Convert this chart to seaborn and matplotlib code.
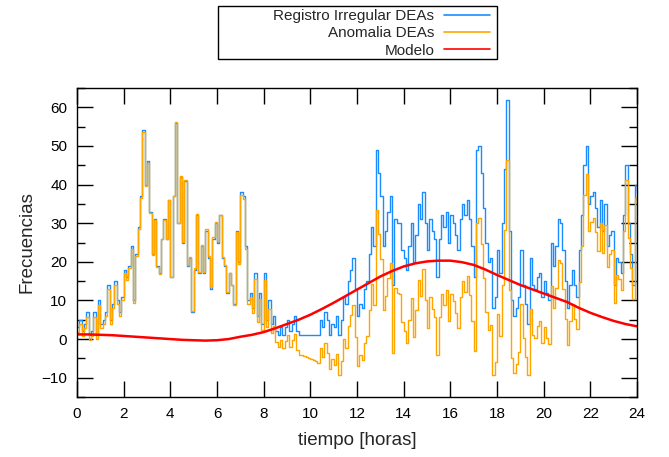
import numpy as np
import pandas as pd
import matplotlib
matplotlib.use("Agg")
import matplotlib.pyplot as plt
import seaborn as sns
from matplotlib.patches import Rectangle
from matplotlib.ticker import MultipleLocator

# ---- data ----
tiempo = np.round(np.arange(241) * 0.1, 1)

registro = [
    3, 5, 2, 4, 7, 1, 2, 7, 1, 10,
    4, 5, 7, 14, 5, 9, 15, 10, 7, 11,
    18, 16, 19, 24, 10, 22, 29, 37, 54, 40,
    46, 33, 22, 31, 19, 17, 26, 31, 26, 36,
    16, 37, 56, 30, 42, 25, 41, 19, 21, 7,
    18, 32, 17, 24, 17, 28, 21, 13, 26, 30,
    25, 32, 21, 19, 12, 17, 14, 9, 28, 20,
    38, 37, 24, 10, 12, 8, 17, 6, 12, 4,
    17, 5, 10, 4, 6, 2, 1, 3, 1, 3,
    5, 2, 4, 6, 2, 1, 1, 1, 1, 1,
    1, 1, 1, 1, 5, 3, 7, 5, 1, 4,
    3, 6, 1, 5, 11, 9, 15, 18, 21, 13,
    6, 9, 8, 13, 15, 22, 29, 24, 49, 43,
    37, 24, 28, 33, 37, 14, 31, 30, 30, 23,
    21, 18, 24, 30, 20, 27, 35, 31, 38, 30,
    23, 31, 28, 26, 16, 26, 32, 29, 33, 25,
    32, 30, 27, 23, 31, 35, 32, 36, 31, 24,
    16, 49, 50, 43, 34, 25, 20, 21, 8, 11,
    23, 17, 30, 44, 62, 28, 10, 6, 8, 11,
    23, 14, 9, 4, 21, 14, 13, 16, 17, 11,
    15, 12, 10, 25, 19, 24, 31, 30, 23, 15,
    8, 14, 18, 14, 11, 23, 32, 45, 50, 35,
    37, 38, 34, 29, 36, 28, 35, 24, 27, 28,
    14, 21, 20, 17, 32, 45, 30, 22, 14, 40,
    38,
]

anomalia = [
    1.8, 3.8, 0.8, 2.8, 5.8, -0.2, 0.8, 5.8, -0.1, 8.9,
    2.9, 3.9, 5.9, 12.9, 4.0, 8.0, 14.0, 9.1, 6.1, 10.1,
    17.2, 15.3, 18.3, 23.3, 9.4, 21.4, 28.4, 36.5, 53.5, 39.5,
    45.6, 32.6, 21.7, 30.7, 18.7, 16.8, 25.8, 30.9, 25.9, 35.9,
    16.0, 37.1, 56.1, 30.1, 42.2, 25.2, 41.2, 19.2, 21.3, 7.3,
    18.3, 32.3, 17.3, 24.4, 17.4, 28.4, 21.4, 13.4, 26.4, 30.3,
    25.3, 32.2, 21.2, 19.1, 12.1, 17.0, 13.9, 8.8, 27.6, 19.5,
    37.4, 36.3, 23.2, 9.1, 10.9, 6.7, 15.6, 4.5, 10.4, 2.4,
    15.2, 3.0, 7.8, 1.6, 3.4, -0.8, -2.0, -0.2, -2.4, -0.6,
    1.1, -2.1, -0.3, 1.4, -2.8, -4.0, -4.2, -4.5, -4.7, -5.0,
    -5.2, -5.5, -5.8, -6.1, -2.4, -4.7, -1.1, -3.5, -7.8, -5.2,
    -6.6, -3.9, -9.2, -5.6, 0.1, -2.2, 3.5, 6.2, 8.8, 0.5,
    -6.9, -4.2, -5.5, -0.9, 0.8, 7.5, 14.2, 8.8, 33.5, 27.1,
    20.8, 7.5, 11.2, 15.9, 19.6, -3.6, 13.2, 11.9, 11.7, 4.4,
    2.2, -1.0, 4.9, 10.7, 0.6, 7.4, 15.3, 11.2, 18.1, 10.0,
    2.9, 10.9, 7.8, 5.8, -4.2, 5.7, 11.7, 8.7, 12.7, 4.7,
    11.7, 9.8, 6.8, 2.9, 11.0, 15.1, 12.2, 16.4, 11.5, 4.7,
    -3.2, 30.0, 31.3, 24.5, 15.8, 7.0, 2.3, 3.6, -9.2, -5.9,
    6.4, 0.7, 13.9, 28.2, 46.4, 12.7, -5.0, -8.8, -6.5, -3.3,
    9.0, 0.2, -4.6, -9.3, 7.9, 1.1, 0.3, 3.5, 4.8, -1.0,
    3.2, 0.4, -1.4, 13.8, 8.0, 13.3, 20.5, 19.7, 12.9, 5.1,
    -1.6, 4.7, 9.0, 5.3, 2.6, 14.9, 24.2, 37.4, 42.7, 27.9,
    30.2, 31.4, 27.6, 22.9, 30.1, 22.3, 29.5, 18.7, 21.9, 23.1,
    9.3, 16.5, 15.6, 12.8, 27.9, 41.1, 26.2, 18.3, 10.4, 36.6,
    34.7,
]

tiempo_modelo = np.round(np.arange(49) * 0.5, 1)
modelo = [
    1.2, 1.2, 1.1, 1.0, 0.8, 0.6, 0.4, 0.2, 0.0, -0.2,
    -0.3, -0.4, -0.3, 0.0, 0.6, 1.1, 1.8, 2.8, 3.9, 5.0,
    6.3, 7.8, 9.4, 11.1, 12.8, 14.5, 16.2, 17.6, 18.8, 19.6,
    20.1, 20.3, 20.3, 19.9, 19.2, 18.0, 16.6, 15.3, 14.0, 12.9,
    11.8, 10.7, 9.6, 8.1, 6.8, 5.7, 4.7, 3.9, 3.3,
]

etiquetas = ["Registro Irregular DEAs", "Anomalia DEAs", "Modelo"]
colores = ["#1a8cff", "#ffa500", "#ff0000"]
xticks = list(range(0, 25, 2))
yticks = list(range(-10, 61, 10))

df = pd.DataFrame({"tiempo": tiempo, "registro": registro, "anomalia": anomalia})
dm = pd.DataFrame({"tiempo": tiempo_modelo, "modelo": modelo})

# ---- figure ----
sns.set_style("ticks")
plt.rcParams["font.family"] = ["Liberation Sans", "DejaVu Sans"]

fig = plt.figure(figsize=(6.69, 4.57), dpi=100)
ax = fig.add_axes([77 / 669, 1 - 397 / 457, 560 / 669, 309 / 457])

sns.lineplot(data=df, x="tiempo", y="registro", ax=ax, color=colores[0], lw=1.0,
             drawstyle="steps-post", estimator=None, label=etiquetas[0])
sns.lineplot(data=df, x="tiempo", y="anomalia", ax=ax, color=colores[1], lw=1.0,
             drawstyle="steps-post", estimator=None, label=etiquetas[1])
sns.lineplot(data=dm, x="tiempo", y="modelo", ax=ax, color=colores[2], lw=1.8,
             estimator=None, label=etiquetas[2])

ax.set_xlim(0, 24)
ax.set_ylim(-15, 65)
ax.set_xticks(xticks)
ax.set_yticks(yticks)
ax.yaxis.set_minor_locator(MultipleLocator(5))
ax.tick_params(which="both", direction="in", top=True, right=True,
               labelsize=11, width=1.0, color="black", labelcolor="black")
ax.tick_params(which="major", length=11.5, pad=7)
ax.tick_params(which="minor", length=6)
ax.tick_params(axis="x", which="minor", bottom=False, top=False)
for s in ax.spines.values():
    s.set_visible(True)
    s.set_linewidth(1.0)
    s.set_color("black")
ax.set_xlabel("tiempo [horas]", fontsize=13.5, labelpad=8)
ax.set_ylabel("Frecuencias", fontsize=13.5, labelpad=4)

handles, labels = ax.get_legend_handles_labels()
ax.get_legend().remove()
leg = fig.legend(handles, labels, loc="upper right",
                 bbox_to_anchor=(490 / 669, 1 - 9 / 457),
                 markerfirst=False, frameon=False, fontsize=11,
                 labelspacing=0.22, handlelength=3.0, handletextpad=0.65,
                 borderpad=0.0, borderaxespad=0.0)
for line in leg.get_lines():
    line.set_linewidth(1.2)
fig.add_artist(Rectangle((218 / 669, 1 - 59 / 457), 279 / 669, 53 / 457,
                         transform=fig.transFigure, fill=False,
                         edgecolor="black", lw=1.0))

fig.savefig("out.png", dpi=100)
